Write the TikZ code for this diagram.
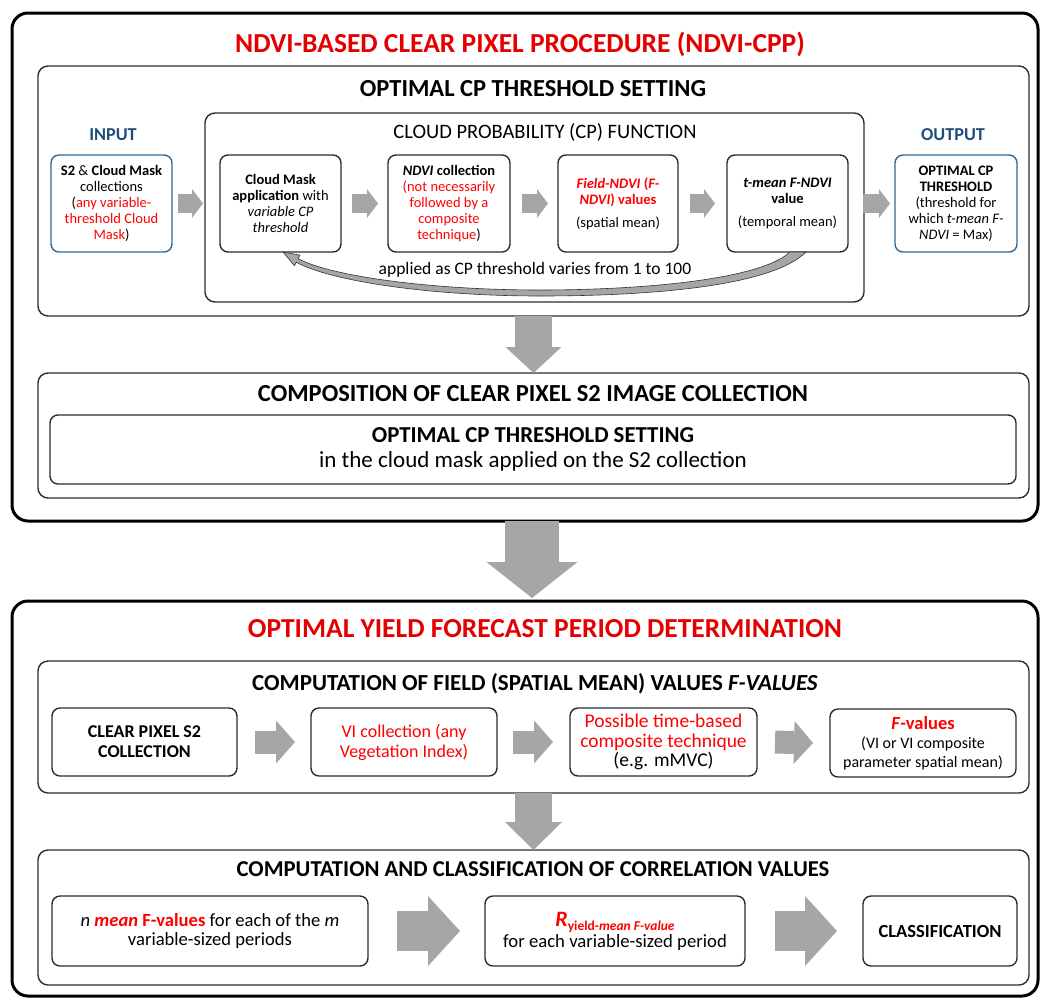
\documentclass[tikz,border=0pt]{standalone}
\usepackage{fontspec}
\setmainfont{Carlito}
\usetikzlibrary{arrows.meta,calc}
\definecolor{tred}{RGB}{228,0,0}
\definecolor{bred}{RGB}{255,0,0}
\definecolor{iblue}{RGB}{31,78,121}
\definecolor{bblue}{RGB}{46,104,150}
\definecolor{agray}{RGB}{166,166,166}
\definecolor{lgray}{RGB}{45,45,45}
\begin{document}
\begin{tikzpicture}[x=1pt,y=-1pt,
 bigbox/.style={draw=black,line width=3pt,rounded corners=16pt,inner sep=0pt,outer sep=0pt},
 midbox/.style={draw=lgray,line width=1.4pt,rounded corners=10pt,inner sep=0pt,outer sep=0pt},
 subbox/.style={draw=lgray,line width=1.4pt,rounded corners=8pt,inner sep=0pt,outer sep=0pt,align=center},
 iobox/.style={draw=bblue,line width=1.4pt,rounded corners=8pt,inner sep=0pt,outer sep=0pt,align=center},
 fsmall/.style={font=\fontsize{14.5}{16}\selectfont},
 fmid/.style={font=\fontsize{18}{20}\selectfont},
 bigtitle/.style={font=\bfseries\fontsize{27.5}{30}\selectfont,text=tred},
 blk/.style n args={3}{draw=agray,line width=#1,-{Triangle[length=#2,width=#3,line width=0pt]}}
]
\useasboundingbox (0,0) rectangle (1040,999);

% ---------- upper part ----------
\node[bigbox,minimum width=1026,minimum height=508] (outer1) at (525,267) {};
\node[bigtitle] (t1) at (520,44) {NDVI-BASED CLEAR PIXEL PROCEDURE (NDVI-CPP)};
\node[midbox,minimum width=991,minimum height=250] (inner1) at (533.5,191) {};
\node[font=\bfseries\fontsize{24.5}{27}\selectfont] (t2) at (533,89) {OPTIMAL CP THRESHOLD SETTING};
\node[midbox,minimum width=659,minimum height=189] (cp) at (534.5,207.5) {};
\node[font=\fontsize{20.5}{23}\selectfont] (t3) at (545,132) {CLOUD PROBABILITY (CP) FUNCTION};

\node[font=\bfseries\fontsize{18.2}{20}\selectfont,text=iblue] (lin) at (113,135) {INPUT};
\node[font=\bfseries\fontsize{18.2}{20}\selectfont,text=iblue] (lout) at (953,135) {OUTPUT};

\node[iobox,fsmall,minimum width=121,minimum height=97] (in) at (111.5,203.5)
 {\textbf{S2} \& \textbf{Cloud Mask}\\collections\\(\textcolor{bred}{any variable-}\\\textcolor{bred}{threshold Cloud}\\\textcolor{bred}{Mask})};
\node[subbox,fsmall,minimum width=121,minimum height=97] (b1) at (280.5,203.5)
 {\textbf{Cloud Mask}\\\textbf{application} with\\\textit{variable CP}\\\textit{threshold}};
\node[subbox,fsmall,minimum width=122,minimum height=97] (b2) at (449,203.5)
 {\textbf{\textit{NDVI} collection}\\\textcolor{bred}{(not necessarily}\\\textcolor{bred}{followed by a}\\\textcolor{bred}{composite}\\\textcolor{bred}{technique})};
\node[subbox,fsmall,minimum width=120,minimum height=97] (b3) at (618,203.5)
 {\textcolor{bred}{\textbf{\textit{Field-NDVI} (\textit{F-}}}\\\textcolor{bred}{\textbf{\textit{NDVI}) values}}\\[7pt](spatial mean)};
\node[subbox,fsmall,minimum width=121,minimum height=97] (b4) at (787.5,203.5)
 {\textbf{\textit{t-mean F-NDVI}}\\\textbf{value}\\[7pt](temporal mean)};
\node[iobox,fsmall,minimum width=122,minimum height=97] (out) at (956,203.5)
 {\textbf{OPTIMAL CP}\\\textbf{THRESHOLD}\\(threshold for\\which \textit{t-mean F-}\\\textit{NDVI} = Max)};

\draw[blk={19pt}{11pt}{29pt}] ($(in.east)+(6,0)$) -- ($(b1.west)+(-17,0)$);
\draw[blk={19pt}{11pt}{29pt}] ($(b1.east)+(11,0)$) -- ($(b2.west)+(-10,0)$);
\draw[blk={19pt}{11pt}{29pt}] ($(b2.east)+(12,0)$) -- ($(b3.west)+(-10,0)$);
\draw[blk={19pt}{11pt}{29pt}] ($(b3.east)+(12,0)$) -- ($(b4.west)+(-12,0)$);
\draw[blk={19pt}{11pt}{29pt}] ($(b4.east)+(15,0)$) -- ($(out.west)+(-5,0)$);

% curved feedback arrow
\coordinate (cstart) at ($(b4.south)+(10.5,0)$);
\coordinate (ctip) at ($(b1.south)+(2.5,0)$);
\filldraw[fill=agray,draw=gray!40!black,line width=0.6pt]
 ($(cstart)+(-8,0)$) -- ($(cstart)+(8,0)$)
 .. controls (770,288) and (640,296) .. (540,296)
 .. controls (430,296) and (330,281) .. (296.3,262.2)
 -- (294.4,265.7) -- (ctip) -- (300,255.1) -- (298.1,258.6)
 .. controls (330,276) and (430,290) .. (540,290)
 .. controls (640,290) and (760,280) .. ($(cstart)+(-8,0)$) -- cycle;
\node[font=\fontsize{17.5}{20}\selectfont] (appl) at (535,270) {applied as CP threshold varies from 1 to 100};

% composition box
\node[midbox,minimum width=991,minimum height=125] (comp) at (533.5,435.5) {};
\node[font=\bfseries\fontsize{24.5}{27}\selectfont] (t4) at (533,394) {COMPOSITION OF CLEAR PIXEL S2 IMAGE COLLECTION};
\node[subbox,minimum width=966,minimum height=69,font=\fontsize{23}{25}\selectfont] (compin) at (533,449.5)
 {\textbf{\fontsize{22.8}{25}\selectfont OPTIMAL CP THRESHOLD SETTING}\\in the cloud mask applied on the S2 collection};

\draw[blk={37pt}{26pt}{56pt}] (inner1.south) -- (comp.north);

% big arrow between parts
\draw[blk={54pt}{36pt}{91pt}] ($(outer1.south)+(7,0)$) -- ($(outer1.south)+(7,77)$);

% ---------- lower part ----------
\node[bigbox,minimum width=1026,minimum height=395] (outer2) at (525,798.5) {};
\node[bigtitle] (t5) at (545,629) {OPTIMAL YIELD FORECAST PERIOD DETERMINATION};

\node[midbox,minimum width=991,minimum height=132] (field) at (533.5,727) {};
\node[font=\bfseries\fontsize{23}{25}\selectfont] (t6) at (535,684) {COMPUTATION OF FIELD (SPATIAL MEAN) VALUES \textit{F-VALUES}};
\node[subbox,fmid,minimum width=185,minimum height=68] (f1) at (144.5,742)
 {\textbf{CLEAR PIXEL S2}\\\textbf{COLLECTION}};
\node[subbox,fmid,minimum width=186,minimum height=68] (f2) at (404,742)
 {\textcolor{bred}{VI collection (any}\\\textcolor{bred}{Vegetation Index)}};
\node[subbox,minimum width=187,minimum height=68,font=\fontsize{19.5}{19.5}\selectfont] (f3) at (663.5,742)
 {\textcolor{bred}{Possible time-based}\\\textcolor{bred}{composite technique}\\(e.g. mMVC)};
\node[subbox,minimum width=186,minimum height=68,font=\fontsize{16}{19}\selectfont] (f4) at (923,743)
 {\textcolor{bred}{\fontsize{18.5}{19}\selectfont\textbf{\textit{F}-values}}\\(VI or VI composite\\parameter spatial mean)};

\draw[blk={23pt}{19pt}{43pt}] ($(f1.east)+(18,0)$) -- ($(f2.west)+(-16,0)$);
\draw[blk={23pt}{19pt}{43pt}] ($(f2.east)+(16,0)$) -- ($(f3.west)+(-17,0)$);
\draw[blk={23pt}{19pt}{43pt}] ($(f3.east)+(18,0)$) -- ($(f4.west)+(-17,0)$);

\node[midbox,minimum width=991,minimum height=135] (corr) at (533.5,917.5) {};
\node[font=\bfseries\fontsize{22.7}{25}\selectfont] (t7) at (533,869) {COMPUTATION AND CLASSIFICATION OF CORRELATION VALUES};

\draw[blk={37pt}{28pt}{57pt}] (field.south) -- (corr.north);

\node[subbox,minimum width=316,minimum height=70,font=\fontsize{18.6}{19.5}\selectfont] (c1) at (210,931)
 {\textit{n} \textcolor{bred}{\textbf{\textit{mean} F-values}} for each of the \textit{m}\\variable-sized periods};
\node[subbox,minimum width=260,minimum height=70,font=\fontsize{18.7}{21}\selectfont] (c2) at (615,931)
 {\textcolor{bred}{\textbf{\textit{\fontsize{22}{22}\selectfont R}}\raisebox{-4pt}{\bfseries\fontsize{13.5}{14}\selectfont yield-\textit{mean F-value}}}\\for each variable-sized period};
\node[subbox,minimum width=154,minimum height=70,font=\bfseries\fontsize{18.5}{20}\selectfont] (c3) at (940,931)
 {CLASSIFICATION};

\draw[blk={40pt}{32pt}{70pt}] ($(c1.east)+(29,0)$) -- ($(c2.west)+(-25,0)$);
\draw[blk={40pt}{32pt}{70pt}] ($(c2.east)+(30,0)$) -- ($(c3.west)+(-26,0)$);
\end{tikzpicture}
\end{document}
